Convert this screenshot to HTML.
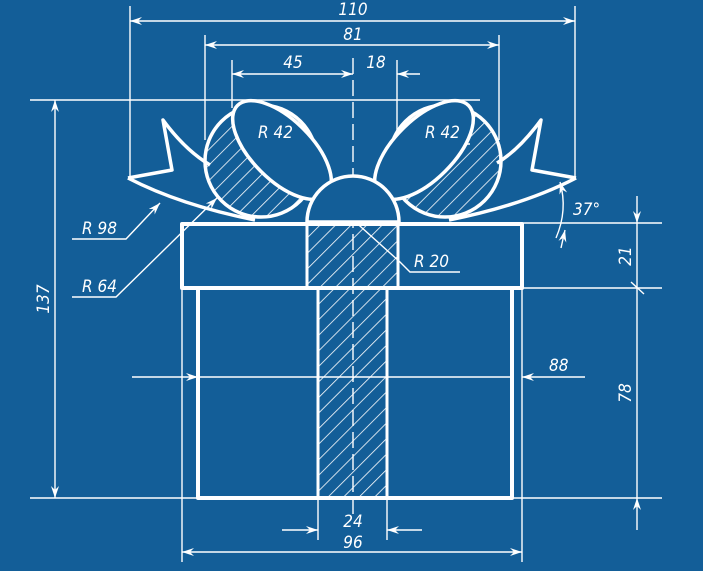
<!DOCTYPE html>
<html><head><meta charset="utf-8"><style>
html,body{margin:0;padding:0;background:#135e98;}
svg{display:block;}
text{font-family:"DejaVu Sans Condensed","Liberation Sans Narrow","Liberation Sans",sans-serif;font-style:oblique;fill:#fff;font-size:17px;}
</style></head><body>
<svg width="703" height="571" viewBox="0 0 703 571">
<defs>
<pattern id="hatch" patternUnits="userSpaceOnUse" width="11" height="11" patternTransform="rotate(45)">
<line x1="0" y1="0" x2="0" y2="11" stroke="#fff" stroke-width="1.6"/>
</pattern>
<marker id="arr" viewBox="0 0 12 8" refX="12" refY="4" markerWidth="12" markerHeight="8" markerUnits="userSpaceOnUse" orient="auto-start-reverse">
<path d="M0,0 L12,4 L0,8 L4,4 Z" fill="#fff"/>
</marker>
</defs>
<rect width="703" height="571" fill="#135e98"/>

<g stroke="#fff" stroke-width="1.4" fill="none">
<line x1="130" y1="6" x2="130" y2="180"/>
<line x1="575" y1="6" x2="575" y2="180"/>
<line x1="205" y1="35" x2="205" y2="140"/>
<line x1="499" y1="35" x2="499" y2="140"/>
<line x1="232" y1="60" x2="232" y2="108"/>
<line x1="397" y1="60" x2="397" y2="190"/>
<line x1="30" y1="100" x2="480" y2="100"/>
<line x1="130" y1="21" x2="575" y2="21" marker-start="url(#arr)" marker-end="url(#arr)"/>
<line x1="205" y1="45" x2="499" y2="45" marker-start="url(#arr)" marker-end="url(#arr)"/>
<line x1="232" y1="74" x2="353" y2="74" marker-start="url(#arr)" marker-end="url(#arr)"/>
<line x1="420" y1="74" x2="397" y2="74" marker-end="url(#arr)"/>
<line x1="353" y1="58" x2="353" y2="515" stroke-dasharray="16,6"/>
<line x1="55" y1="100" x2="55" y2="498" marker-start="url(#arr)" marker-end="url(#arr)"/>
<line x1="30" y1="498" x2="662" y2="498"/>
<line x1="522" y1="223" x2="662" y2="223"/>
<line x1="522" y1="288" x2="662" y2="288"/>
<line x1="637" y1="196" x2="637" y2="223" marker-end="url(#arr)"/>
<line x1="637" y1="223" x2="637" y2="498"/>
<line x1="637" y1="530" x2="637" y2="498" marker-end="url(#arr)"/>
<line x1="631" y1="282" x2="644" y2="294"/>
<line x1="132" y1="377" x2="198" y2="377" marker-end="url(#arr)"/>
<line x1="198" y1="377" x2="512" y2="377"/>
<line x1="585" y1="377" x2="522" y2="377" marker-end="url(#arr)"/>
<line x1="182" y1="288" x2="182" y2="562"/>
<line x1="522" y1="288" x2="522" y2="562"/>
<line x1="318" y1="498" x2="318" y2="540"/>
<line x1="387" y1="498" x2="387" y2="540"/>
<line x1="182" y1="552" x2="522" y2="552" marker-start="url(#arr)" marker-end="url(#arr)"/>
<line x1="282" y1="530" x2="318" y2="530" marker-end="url(#arr)"/>
<line x1="422" y1="530" x2="387" y2="530" marker-end="url(#arr)"/>
<polyline points="72,239 126,239 160,203" marker-end="url(#arr)"/>
<polyline points="72,297 116,297 217,198" marker-end="url(#arr)"/>
<polyline points="303,142 278,142 262,158" marker-end="url(#arr)"/>
<polyline points="470,144 425,144 409,127" marker-end="url(#arr)"/>
<polyline points="460,272 410,272 400,262 322,192" marker-end="url(#arr)"/>
<path d="M556,238 Q568,210 560,182" marker-end="url(#arr)"/>
<line x1="561" y1="248" x2="565" y2="230" marker-end="url(#arr)"/>
</g>

<g stroke="#fff" stroke-width="4" fill="none" stroke-linejoin="round">
<rect x="307" y="224" width="91" height="64" fill="url(#hatch)" stroke-width="3"/>
<rect x="318" y="288" width="69" height="210" fill="url(#hatch)" stroke-width="3"/>
<path d="M128,178 L172,170 L163,120 Q185,150 210,165 M128,178 Q180,205 255,220" stroke-width="3.5"/>
<path d="M576,178 L532,170 L541,120 Q519,150 497,163 M576,178 Q524,205 449,220" stroke-width="3.5"/>
<circle cx="261" cy="161" r="56" fill="url(#hatch)" stroke-width="3.5"/>
<ellipse cx="282" cy="150" rx="63" ry="30" transform="rotate(45 282 150)" fill="#135e98" stroke-width="3.5"/>
<circle cx="445" cy="161" r="56" fill="url(#hatch)" stroke-width="3.5"/>
<ellipse cx="424" cy="150" rx="63" ry="30" transform="rotate(-45 424 150)" fill="#135e98" stroke-width="3.5"/>
<path d="M307,222 A46,46 0 0 1 399,222 Z" fill="#135e98" stroke-width="3.5"/>
<rect x="182" y="224" width="340" height="64"/>
<rect x="198" y="288" width="314" height="210"/>
<line x1="307" y1="224" x2="307" y2="288" stroke-width="3"/>
<line x1="398" y1="224" x2="398" y2="288" stroke-width="3"/>
</g>

<g>
<text x="353" y="15" text-anchor="middle">110</text>
<text x="353" y="40" text-anchor="middle">81</text>
<text x="293" y="68" text-anchor="middle">45</text>
<text x="376" y="68" text-anchor="middle">18</text>
<text x="258" y="138">R 42</text>
<text x="425" y="138">R 42</text>
<text x="414" y="267">R 20</text>
<text x="82" y="234">R 98</text>
<text x="82" y="292">R 64</text>
<text x="573" y="215">37°</text>
<text x="549" y="371">88</text>
<text x="353" y="527" text-anchor="middle">24</text>
<text x="353" y="548" text-anchor="middle">96</text>
<text transform="translate(49,299) rotate(-90)" text-anchor="middle">137</text>
<text transform="translate(631,256) rotate(-90)" text-anchor="middle">21</text>
<text transform="translate(631,393) rotate(-90)" text-anchor="middle">78</text>
</g>
</svg>
</body></html>
